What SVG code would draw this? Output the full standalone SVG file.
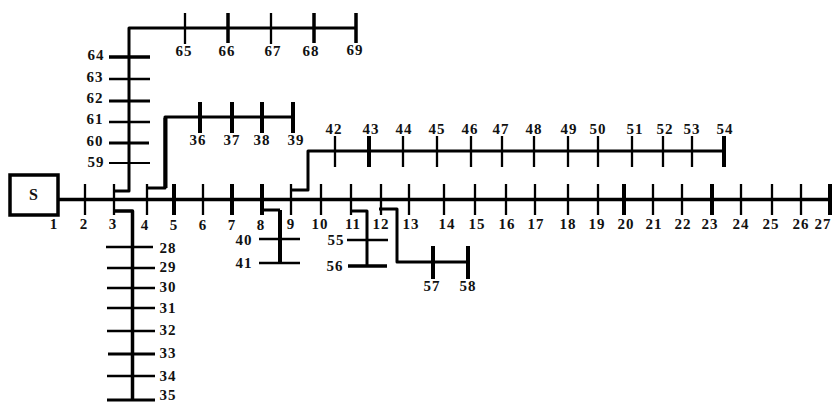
<svg xmlns="http://www.w3.org/2000/svg" width="834" height="403" viewBox="0 0 834 403">
<style>
.l{fill:none;stroke:#000;stroke-width:3;stroke-linejoin:round}
.b{fill:none;stroke:#000;stroke-width:4}
.t{fill:none;stroke:#000;stroke-width:2.300}
text{font-family:"Liberation Serif","Times New Roman",serif;font-weight:bold;font-size:15px;letter-spacing:1px;text-anchor:middle;fill:#111}
</style>
<rect width="834" height="403" fill="#fff"/>
<g id="connectors">
<path class="l" style="stroke-width:3.500" d="M58 199.500H831"/>
<path class="l" d="M115 191H129V28H356"/>
<path class="l" d="M148 188H165V117H293"/>
<path class="l" style="stroke-width:4" d="M165.500 188V118"/>
<path class="l" d="M291 190H308V151H724"/>
<path class="l" style="stroke-width:3.500" d="M114 211H132.500V400"/>
<path class="l" d="M262 210H280"/>
<path class="l" style="stroke-width:4" d="M280 210V262"/>
<path class="l" d="M350 211H367V266"/>
<path class="l" d="M379 209H397V262H468"/>
</g>
<g id="source"><rect x="10" y="175" width="48" height="40" fill="#fff" stroke="#000" stroke-width="3.500"/><text x="34" y="200" style="font-size:16px">S</text></g>
<g id="main-bus">
<path class="t" d="M85 184V215M114 184V215M147 184V215M203 184V215M291 184V215M321 184V215M351 184V215M381 184V215M409 184V215M444 184V215M475 184V215M506 184V215M535 184V215M568 184V215M598 184V215M653 184V215M682 184V215M741 184V215M772 184V215M801 184V215"/>
<path class="b" d="M174 184V215M232 184V215M262 184V215M624 184V215M712 184V215M830 184V215"/>
<text x="54" y="229">1</text><text x="84" y="229">2</text><text x="113" y="229">3</text><text x="145" y="230">4</text><text x="174" y="230">5</text><text x="203" y="230">6</text><text x="232" y="230">7</text><text x="261" y="230">8</text><text x="291" y="229">9</text><text x="320" y="229">10</text><text x="353" y="229">11</text><text x="381" y="229">12</text><text x="411" y="229">13</text><text x="447" y="229">14</text><text x="477" y="229">15</text><text x="507" y="229">16</text><text x="536" y="229">17</text><text x="568" y="229">18</text><text x="597" y="229">19</text><text x="626" y="229">20</text><text x="654" y="229">21</text><text x="683" y="229">22</text><text x="710" y="229">23</text><text x="741" y="229">24</text><text x="771" y="229">25</text><text x="801" y="229">26</text><text x="823" y="229">27</text>
</g>
<g id="branch-59-64">
<path class="t" style="stroke-width:1.800" d="M109 163H150"/>
<path class="t" d="M109 122H150M109 79H150"/>
<path class="l" d="M109 143H149M109 101H150"/>
<path class="l" style="stroke-width:3.500" d="M109 57H150"/>
<text x="96" y="167">59</text><text x="95" y="146">60</text><text x="95" y="124">61</text><text x="95" y="103">62</text><text x="95" y="82">63</text><text x="96" y="60">64</text>
</g>
<g id="branch-65-69">
<path class="t" d="M185 13V44M271 13V44"/>
<path class="b" style="stroke-width:3.500" d="M228 13V43M314 13V43M356 13V43"/>
<text x="184" y="56">65</text><text x="227" y="56">66</text><text x="273" y="56">67</text><text x="311" y="56">68</text><text x="355" y="55">69</text>
</g>
<g id="branch-36-39">
<path class="b" d="M200 102V133M232 102V133M262 102V133M293 102V133"/>
<text x="198" y="145">36</text><text x="232" y="145">37</text><text x="262" y="145">38</text><text x="296" y="145">39</text>
</g>
<g id="branch-42-54">
<path class="t" d="M335 136V167M403 136V167M437 136V167M471 136V167M502 136V167M534 136V167M568 136V167M598 136V167M632 136V167M663 136V167M692 136V167"/>
<path class="b" d="M369 136V167M724 136V167"/>
<text x="334" y="134">42</text><text x="371" y="134">43</text><text x="404" y="134">44</text><text x="437" y="134">45</text><text x="470" y="134">46</text><text x="501" y="134">47</text><text x="534" y="134">48</text><text x="569" y="134">49</text><text x="598" y="134">50</text><text x="635" y="134">51</text><text x="665" y="134">52</text><text x="692" y="134">53</text><text x="725" y="134">54</text>
</g>
<g id="branch-28-35">
<path class="t" d="M106 247H153M107 268H155M107 288H155M107 308H155M107 331H155M107 376H155"/>
<path class="l" d="M108 354H155M107 400H155"/>
<text x="168" y="253">28</text><text x="168" y="272">29</text><text x="168" y="292">30</text><text x="168" y="313">31</text><text x="168" y="335">32</text><text x="168" y="358">33</text><text x="168" y="381">34</text><text x="168" y="399.500">35</text>
</g>
<g id="branch-40-41">
<path class="t" d="M259 239H300M259 263H300"/>
<text x="244" y="245">40</text><text x="244" y="268">41</text>
</g>
<g id="branch-55-56">
<path class="t" d="M347 240H388"/>
<path class="l" style="stroke-width:3.500" d="M348 266H387"/>
<text x="336" y="245">55</text><text x="335" y="271">56</text>
</g>
<g id="branch-57-58">
<path class="b" d="M433 246V279M468 246V279"/>
<text x="432" y="291">57</text><text x="468" y="291">58</text>
</g>
</svg>
